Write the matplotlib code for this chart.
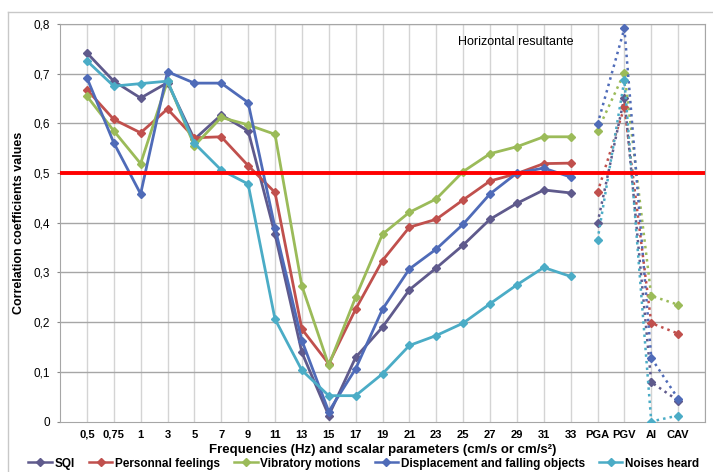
import numpy as np
import matplotlib.pyplot as plt
from matplotlib.lines import Line2D

plt.rcParams['font.family'] = ['Liberation Sans', 'DejaVu Sans']

# categorias: frequências (Hz) e depois os parâmetros escalares
freqs = ['0,5', '0,75', '1', '3', '5', '7', '9', '11', '13', '15', '17', '19',
         '21', '23', '25', '27', '29', '31', '33']
params = ['PGA', 'PGV', 'AI', 'CAV']
labels = freqs + params

# coeficientes de correlação por série (frequências + parâmetros)
sqi = [0.742, 0.685, 0.651, 0.682, 0.568, 0.617, 0.585, 0.377, 0.139, 0.012,
       0.129, 0.190, 0.265, 0.309, 0.355, 0.407, 0.439, 0.466, 0.460,
       0.399, 0.652, 0.079, 0.042]
personal = [0.668, 0.608, 0.581, 0.629, 0.571, 0.573, 0.515, 0.461, 0.186, 0.116,
            0.226, 0.324, 0.391, 0.407, 0.446, 0.484, 0.499, 0.519, 0.520,
            0.461, 0.633, 0.198, 0.177]
vibratory = [0.655, 0.585, 0.519, 0.685, 0.555, 0.612, 0.597, 0.578, 0.273, 0.113,
             0.250, 0.377, 0.421, 0.448, 0.503, 0.539, 0.553, 0.573, 0.573,
             0.585, 0.702, 0.253, 0.235]
displacement = [0.692, 0.561, 0.458, 0.704, 0.681, 0.681, 0.642, 0.390, 0.163, 0.020,
                0.106, 0.226, 0.307, 0.347, 0.397, 0.458, 0.500, 0.510, 0.492,
                0.598, 0.791, 0.128, 0.046]
noises = [0.726, 0.675, 0.680, 0.685, 0.560, 0.506, 0.478, 0.206, 0.103, 0.052,
          0.052, 0.096, 0.153, 0.173, 0.198, 0.237, 0.275, 0.310, 0.292,
          0.365, 0.687, 0.000, 0.012]
limite = 0.5

series = [
    ('SQI', sqi, '#5f5a8c'),
    ('Personnal feelings', personal, '#c0504d'),
    ('Vibratory motions', vibratory, '#9bbb59'),
    ('Displacement and falling objects', displacement, '#4f6bb8'),
    ('Noises heard', noises, '#4bacc6'),
]

fig = plt.figure(figsize=(7.13, 4.72), dpi=100)
ax = fig.add_axes([60/713, 1-421.5/472, 645/713, 397.5/472])

x = np.arange(len(labels))
nf = len(freqs)
handles = []
for nome, vals, cor in series:
    vals = np.array(vals)
    # frequências: linha contínua
    ax.plot(x[:nf], vals[:nf], '-', color=cor, lw=2, marker='D', ms=4.5, zorder=3)
    # parâmetros escalares: linha pontilhada
    ax.plot(x[nf:], vals[nf:], ':', color=cor, lw=1.8, marker='D', ms=4.5, zorder=3)
    handles.append(Line2D([], [], color=cor, lw=1.8, marker='D', ms=4, label=nome))

ax.axhline(limite, color='#ff0000', lw=2.8, zorder=4)

ax.set_xlim(-1, len(labels))
ax.set_ylim(0, 0.8)
ax.set_xticks(x)
ax.set_xticklabels(labels, fontsize=8, fontweight='bold')
ax.set_yticks(np.arange(0, 0.81, 0.1))
ax.set_yticklabels(['0'] + [('%.1f' % v).replace('.', ',') for v in np.arange(0.1, 0.81, 0.1)],
                   fontsize=8.5)
ax.tick_params(axis='x', length=0, pad=6)
ax.tick_params(axis='y', length=2, color='#888888', pad=5)

# grade
for v in np.arange(0.1, 0.81, 0.1):
    ax.axhline(v, color='#a6a6a6', lw=1, zorder=1)
for v in np.arange(0, len(labels) + 1):
    ax.axvline(v, color='#d4d4d4', lw=1, zorder=0)
for s in ax.spines.values():
    s.set_color('#a6a6a6')

ax.set_ylabel('Correlation coefficients values', fontsize=9, fontweight='bold', labelpad=6)
ax.set_xlabel('Frequencies (Hz) and scalar parameters (cm/s or cm/s²)', fontsize=9.5,
              fontweight='bold', labelpad=3)
ax.text(13.8, 0.763, 'Horizontal resultante', fontsize=9, va='center')

fig.legend(handles=handles, loc='center', bbox_to_anchor=(0.51, 0.018), ncol=5,
           frameon=False, prop={'size': 8.5, 'weight': 'bold'}, handlelength=2,
           handletextpad=0.2, columnspacing=1.2)

# borda da área do gráfico
fig.add_artist(Line2D([8/713, 8/713], [0, 1-12/472], color='#c8c8c8', lw=1,
                      transform=fig.transFigure))
fig.add_artist(Line2D([8/713, 1], [1-12/472, 1-12/472], color='#c8c8c8', lw=1,
                      transform=fig.transFigure))

fig.savefig('out.png', dpi=100)
